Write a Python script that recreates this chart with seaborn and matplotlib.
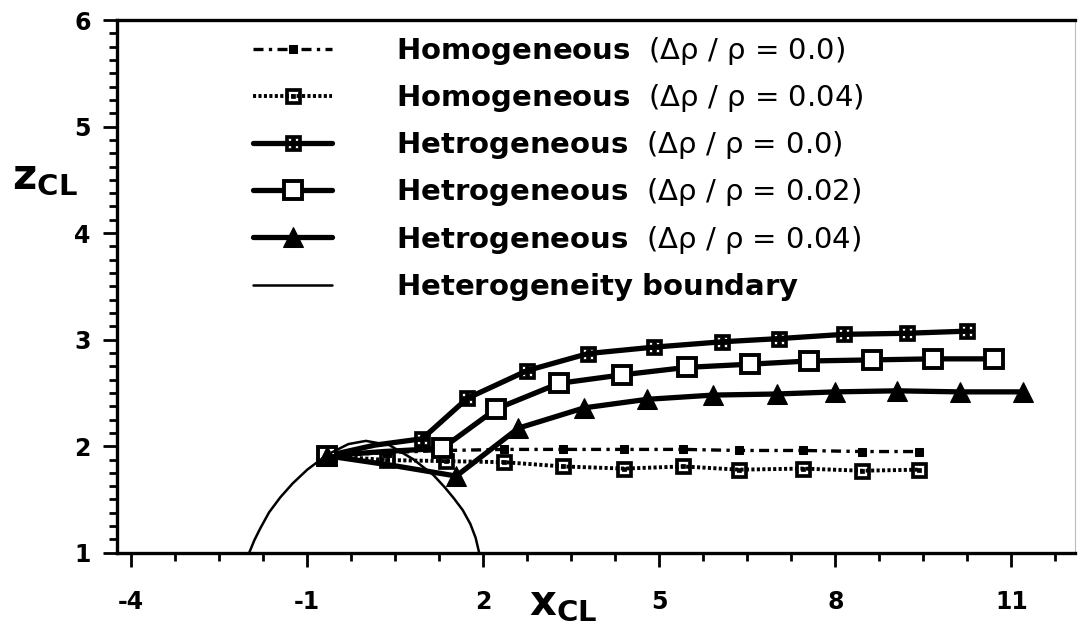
import numpy as np
import pandas as pd
import matplotlib
matplotlib.use("Agg")
import matplotlib.pyplot as plt
from matplotlib.path import Path
from matplotlib.ticker import MultipleLocator, FixedLocator
import seaborn as sns

# values
homog_x = [-0.66, 0.36, 1.36, 2.36, 3.36, 4.40, 5.41, 6.36, 7.45, 8.46, 9.43]
homog_00_z = [1.91, 1.94, 1.96, 1.97, 1.97, 1.97, 1.97, 1.96, 1.96, 1.95, 1.95]
homog_04_z = [1.91, 1.87, 1.86, 1.85, 1.81, 1.79, 1.81, 1.78, 1.79, 1.77, 1.78]

het_00_x = [-0.66, 0.15, 0.96, 1.73, 2.75, 3.79, 4.91, 6.07, 7.04, 8.15, 9.22, 10.24]
het_00_z = [1.91, 2.01, 2.07, 2.45, 2.71, 2.87, 2.93, 2.98, 3.01, 3.05, 3.06, 3.08]

het_02_x = [-0.66, 0.30, 1.30, 2.22, 3.29, 4.37, 5.47, 6.55, 7.55, 8.62, 9.66, 10.70]
het_02_z = [1.91, 1.95, 1.98, 2.35, 2.59, 2.67, 2.74, 2.77, 2.80, 2.81, 2.82, 2.82]

het_04_x = [-0.66, 0.45, 1.54, 2.60, 3.72, 4.79, 5.92, 7.00, 8.00, 9.05, 10.12, 11.20]
het_04_z = [1.91, 1.82, 1.72, 2.17, 2.36, 2.44, 2.48, 2.49, 2.51, 2.52, 2.51, 2.51]

bound_x = [-1.99, -1.90, -1.80, -1.65, -1.46, -1.25, -1.00, -0.66, -0.30, 0.00,
           0.40, 0.80, 1.15, 1.35, 1.50, 1.65, 1.78, 1.87, 1.93]
bound_z = [1.00, 1.12, 1.23, 1.38, 1.52, 1.65, 1.78, 1.92, 2.02, 2.05,
           2.01, 1.88, 1.73, 1.61, 1.51, 1.40, 1.27, 1.14, 1.00]

x_ticks = [-4, -1, 2, 5, 8, 11]
y_ticks = [1, 2, 3, 4, 5, 6]

labels = [
    r"$\mathbf{Homogeneous}$  (Δρ / ρ = 0.0)",
    r"$\mathbf{Homogeneous}$  (Δρ / ρ = 0.04)",
    r"$\mathbf{Hetrogeneous}$  (Δρ / ρ = 0.0)",
    r"$\mathbf{Hetrogeneous}$  (Δρ / ρ = 0.02)",
    r"$\mathbf{Hetrogeneous}$  (Δρ / ρ = 0.04)",
    r"$\mathbf{Heterogeneity\ boundary}$",
]


def sq(cx, cy, h, rev=False):
    pts = [(cx - h, cy - h), (cx + h, cy - h), (cx + h, cy + h), (cx - h, cy + h)]
    if rev:
        pts = pts[::-1]
    return pts + [pts[0]], [Path.MOVETO, Path.LINETO, Path.LINETO, Path.LINETO, Path.CLOSEPOLY]


def compound(parts):
    verts, codes = [], []
    for v, c in parts:
        verts += v
        codes += c
    return Path(verts, codes)


# square with four white holes and square with a dot in the middle
grid_sq = compound([sq(0, 0, 1)] + [sq(dx, dy, 0.2, True) for dx in (-0.4, 0.4) for dy in (-0.4, 0.4)])
dot_sq = compound([sq(0, 0, 1), sq(0, 0, 0.6, True), sq(0, 0, 0.22)])

sns.set_theme(style="white")
plt.rcParams["font.family"] = ["DejaVu Sans"]
plt.rcParams["mathtext.fontset"] = "dejavusans"
plt.rcParams["axes.unicode_minus"] = False
for key in ["text.color", "axes.labelcolor", "xtick.color", "ytick.color"]:
    plt.rcParams[key] = "black"

fig = plt.figure(figsize=(10.85, 6.26), dpi=100)
ax = fig.add_axes([0.108, 0.117, 0.883, 0.851])

k = "black"
skip_mid = [0] + list(range(2, 12))
sns.lineplot(x=homog_x, y=homog_00_z, ax=ax, color=k, lw=2.4, linestyle=(0, (3, 1.6, 1, 1.6)),
             marker="s", ms=5.5, mfc=k, mec=k, estimator=None, sort=False, label=labels[0])
sns.lineplot(x=homog_x, y=homog_04_z, ax=ax, color=k, lw=2.8, linestyle=(0, (0.8, 0.6)),
             marker=dot_sq, ms=11, mfc=k, mec=k, mew=0.5, estimator=None, sort=False, label=labels[1])
sns.lineplot(x=het_00_x, y=het_00_z, ax=ax, color=k, lw=3.8, markevery=skip_mid,
             marker=grid_sq, ms=11, mfc=k, mec=k, mew=0.5, estimator=None, sort=False, label=labels[2])
sns.lineplot(x=het_02_x, y=het_02_z, ax=ax, color=k, lw=3.8, markevery=skip_mid,
             marker="s", ms=13, mfc="white", mec=k, mew=2.8, estimator=None, sort=False, label=labels[3])
sns.lineplot(x=het_04_x, y=het_04_z, ax=ax, color=k, lw=3.8, markevery=skip_mid,
             marker="^", ms=14, mfc=k, mec=k, estimator=None, sort=False, label=labels[4])
sns.lineplot(x=bound_x, y=bound_z, ax=ax, color=k, lw=1.8, estimator=None, sort=False, label=labels[5])

ax.set_xlim(-4.24, 12.09)
ax.set_ylim(1, 6)
ax.xaxis.set_major_locator(FixedLocator(x_ticks))
ax.yaxis.set_major_locator(FixedLocator(y_ticks))
ax.xaxis.set_minor_locator(MultipleLocator(0.75, offset=0.5))
ax.yaxis.set_minor_locator(MultipleLocator(0.125))
ax.tick_params(which="both", direction="out", color=k, width=2, bottom=True, left=True,
               top=False, right=False)
ax.tick_params(which="major", length=10, pad=9, labelsize=17)
ax.tick_params(axis="x", which="major", pad=17)
ax.tick_params(which="minor", length=6)
for t in ax.get_xticklabels() + ax.get_yticklabels():
    t.set_fontweight("bold")

for side in ["left", "bottom", "top"]:
    ax.spines[side].set_color(k)
    ax.spines[side].set_linewidth(2.4)
ax.spines["right"].set_color("#bbbbbb")
ax.spines["right"].set_linewidth(0.8)

ax.set_xlabel("")
ax.set_ylabel("")
ax.text(0.465, -0.095, r"$\mathbf{x}_{\mathbf{CL}}$", transform=ax.transAxes, fontsize=30,
        ha="center", va="center")
ax.text(-0.075, 0.705, r"$\mathbf{z}_{\mathbf{CL}}$", transform=ax.transAxes, fontsize=30,
        ha="center", va="center")

leg = ax.legend(loc="upper left", bbox_to_anchor=(0.142, 0.972), frameon=False,
                prop={"family": "DejaVu Sans", "size": 21},
                handlelength=2.7, handletextpad=2.2, labelspacing=0.52, borderpad=0,
                numpoints=1, borderaxespad=0)

fig.savefig("out.png", dpi=100)
